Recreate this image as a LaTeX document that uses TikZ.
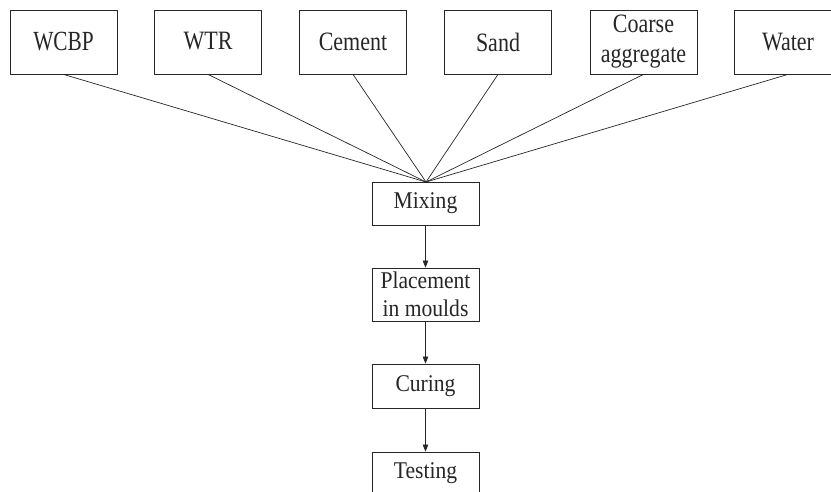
\documentclass[tikz,border=0pt]{standalone}
\usepackage{fontspec}
\setmainfont{Liberation Serif}
\newfontfamily\topfont{Liberation Serif}[FakeStretch=0.83]
\newfontfamily\wcbpfont{Liberation Serif}[FakeStretch=0.77]
\newfontfamily\stepfont{Liberation Serif}[FakeStretch=0.9]
\usetikzlibrary{arrows.meta}
\begin{document}
\begin{tikzpicture}[x=1pt,y=-1pt,
  box/.style={draw=black!85, line width=0.8pt, inner sep=0pt, align=center,
    text=black!85},
  topbox/.style={box, minimum width=107pt, minimum height=64pt,
    font=\topfont\fontsize{26.5}{30}\selectfont},
  stepbox/.style={box, minimum width=107pt,
    font=\stepfont\fontsize{24}{27.7}\selectfont},
  link/.style={draw=black!85, line width=0.7pt},
  flow/.style={link, -{Triangle[length=7pt,width=5.5pt]}}]
\clip (0,0) rectangle (831,492);
\node[topbox, font=\wcbpfont\fontsize{27.7}{30}\selectfont] (wcbp) at (63.5,42) {\raisebox{-4pt}{WCBP}};
\node[topbox] (wtr) at (208,42) {\raisebox{3pt}{WTR}};
\node[topbox] (cement) at (353,42) {Cement};
\node[topbox] (sand) at (498,42) {Sand};
\node[topbox] (coarse) at (643.5,42) {Coarse\\aggregate};
\node[topbox] (water) at (788,42) {Water};
\node[stepbox, minimum height=43pt] (mixing) at (425.5,203.5) {Mixing};
\node[stepbox, minimum height=53pt] (placement) at (425.5,294.5) {Placement\\in moulds};
\node[stepbox, minimum height=44pt] (curing) at (425.5,386) {Curing};
\node[stepbox, minimum height=43pt] (testing) at (425.5,473.5) {Testing};
\coordinate (hub) at (426,182);
\foreach \n in {wcbp,wtr,cement,sand,coarse,water}
  \draw[link] (\n.south) -- (hub);
\draw[flow] (mixing) -- (placement);
\draw[flow] (placement) -- (curing);
\draw[flow] (curing) -- (testing);
\end{tikzpicture}
\end{document}
